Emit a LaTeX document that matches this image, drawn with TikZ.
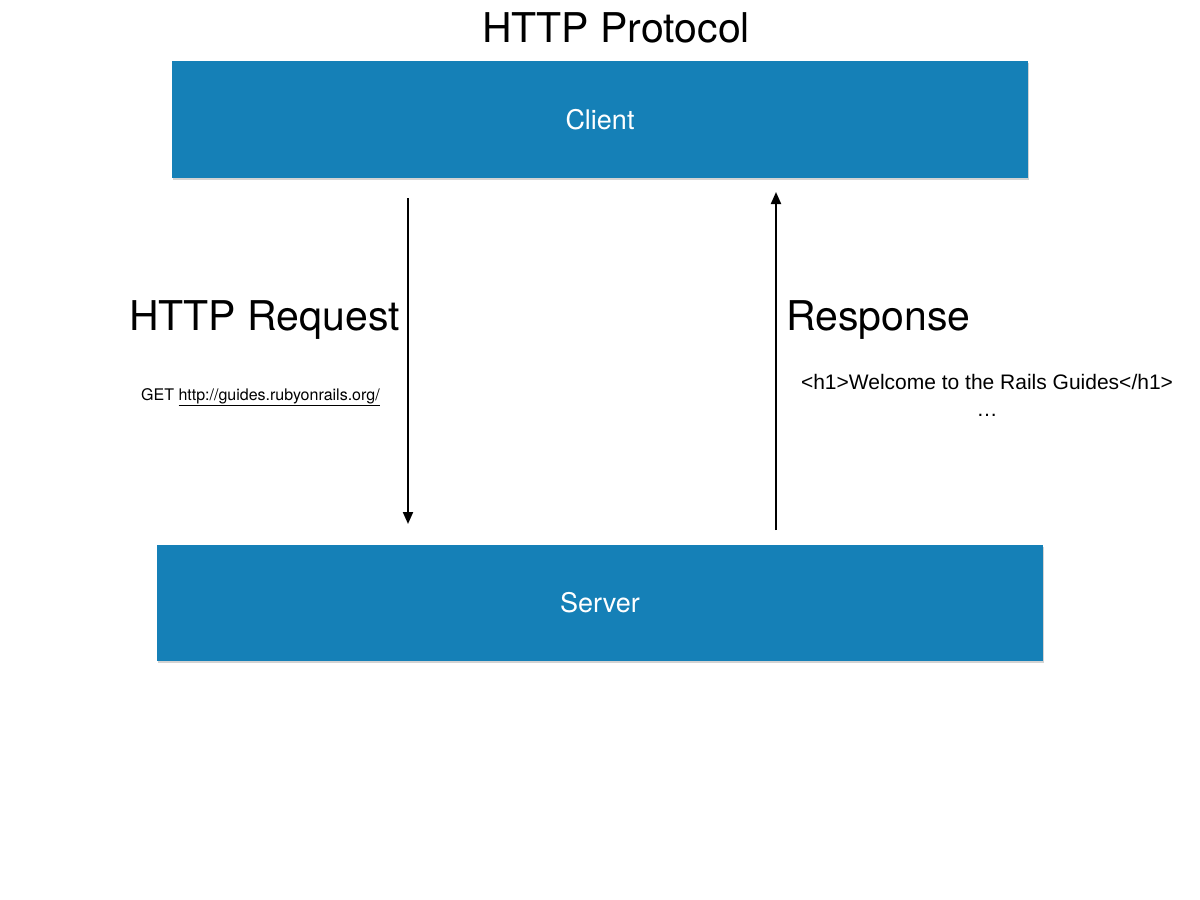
\documentclass[tikz,border=0pt]{standalone}
\usepackage{fontspec}
\setmainfont{TeX Gyre Heros}
\newfontfamily\arialfont{Liberation Sans}
\usetikzlibrary{arrows.meta,shadows}

\definecolor{boxblue}{RGB}{21,128,183}

\tikzset{
	box/.style={rectangle,fill=boxblue,text=white,inner sep=0pt,
		drop shadow={shadow xshift=1pt,shadow yshift=-2pt,opacity=0.35},
		font=\fontsize{27}{32}\selectfont},
	big/.style={font=\fontsize{41}{48}\selectfont,inner sep=0pt},
	small/.style={font=\arialfont\fontsize{21}{25}\selectfont,inner sep=0pt},
	msg/.style={-{Triangle[width=10pt,length=12pt]},line width=2pt}
}

\begin{document}
\begin{tikzpicture}[x=1pt,y=-1pt]

	\useasboundingbox (0,0) rectangle (1200,900);

	\node[big,anchor=base] (title) at (616,42) {HTTP Protocol};

	\node[box,minimum width=856pt,minimum height=117pt] (client) at (600,119.5) {Client};
	\node[box,minimum width=886pt,minimum height=116pt] (server) at (600,603) {Server};

	\coordinate (reqtop) at (408,198);
	\coordinate (reqbot) at (408,524);
	\coordinate (restop) at (776,192);
	\coordinate (resbot) at (776,530);

	\draw[msg] (reqtop) -- (reqbot);
	\draw[msg] (resbot) -- (restop);

	\node[big,anchor=base west] (reqlabel) at (129,330) {HTTP Request};
	\node[big,anchor=base west] (reslabel) at (786,330) {Response};

	\node[inner sep=0pt,anchor=base west,font=\fontsize{16}{19}\selectfont] (get) at (141,400)
		{GET \underline{http://guides.rubyonrails.org/}};
	\node[small,anchor=base] (body) at (987,389) {<h1>Welcome to the Rails Guides</h1>};
	\node[small,anchor=base] (dots) at (987,416) {\dots};

\end{tikzpicture}
\end{document}
